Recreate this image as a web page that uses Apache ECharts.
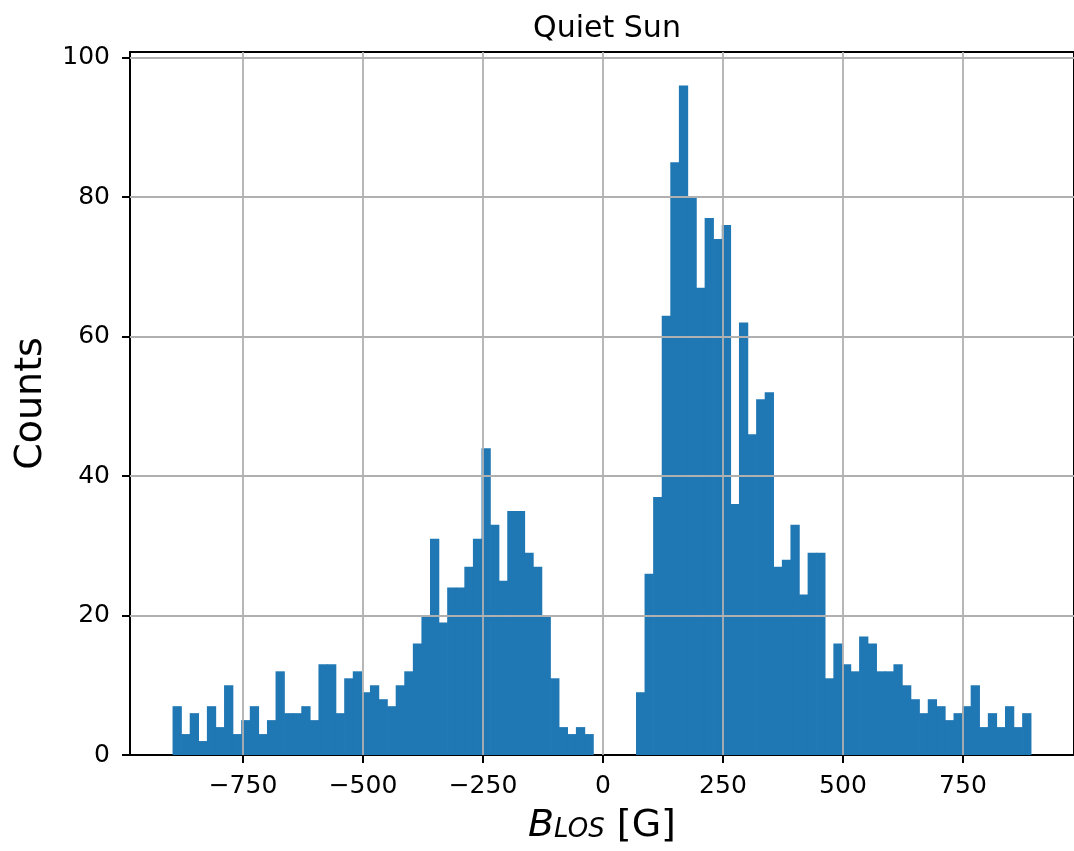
<!DOCTYPE html>
<html>
<head>
<meta charset="utf-8">
<script src="https://cdn.jsdelivr.net/npm/echarts@6/dist/echarts.min.js"></script>
<style>
html,body{margin:0;padding:0;background:#fff;}
#chart{width:1074px;height:851px;}
</style>
</head>
<body>
<div id="chart"></div>
<script>
// Histogram bins: left edge of first bin and bin width (gauss)
const binStart = -896;
const binWidth = 17.88;
// Counts per bin (100 bins)
const counts = [
  7,3,6,2,7,4,10,3,5,7,
  3,5,12,6,6,7,5,13,13,6,
  11,12,9,10,8,7,10,12,16,20,
  31,19,24,24,27,31,44,33,25,35,
  35,29,27,20,11,4,3,4,3,0,
  0,0,0,0,9,26,37,63,85,96,
  80,67,77,74,76,36,62,46,51,52,
  27,28,33,23,29,29,11,16,13,12,
  17,16,12,12,13,10,8,6,8,7,
  5,6,7,10,4,6,4,7,4,6
];
const xTicks = [-750, -500, -250, 0, 250, 500, 750];
const yTicks = [0, 20, 40, 60, 80, 100];
const xRange = [-985.4, 981.4];
const yRange = [0, 100.8];
const titleText = 'Quiet Sun';
const yName = 'Counts';

const FONT = 'DejaVu Sans';
const data = counts.map((c, i) => [binStart + i * binWidth, binStart + (i + 1) * binWidth, c]);
const fmt = v => (v < 0 ? '\u2212' + Math.abs(v) : String(v));

const chart = echarts.init(document.getElementById('chart'), null, {renderer: 'canvas'});
chart.setOption({
  animation: false,
  backgroundColor: '#ffffff',
  title: {
    text: titleText,
    left: 602, top: 9, textAlign: 'center',
    textStyle: {fontFamily: FONT, fontSize: 30, fontWeight: 'normal', color: '#000'}
  },
  grid: {left: 130, right: -1, top: 52, bottom: 96, show: true, borderColor: '#000', borderWidth: 2, backgroundColor: 'transparent'},
  xAxis: {
    type: 'value', min: xRange[0], max: xRange[1],
    name: '{b|B}{s|LOS}{n| [G]}',
    nameLocation: 'middle', nameGap: 52,
    nameTextStyle: {
      rich: {
        b: {fontFamily: FONT, fontStyle: 'italic', fontSize: 38, color: '#000', padding: [0, 0, 9, 0]},
        s: {fontFamily: FONT, fontStyle: 'italic', fontSize: 26, color: '#000'},
        n: {fontFamily: FONT, fontSize: 38, color: '#000', padding: [0, 0, 9, 0]}
      }
    },
    axisLine: {show: true, onZero: false, lineStyle: {color: '#000', width: 2}},
    axisTick: {show: true, length: 8, inside: false, customValues: xTicks, lineStyle: {color: '#000', width: 2}},
    axisLabel: {customValues: xTicks, formatter: fmt, fontFamily: FONT, fontSize: 25, color: '#000', margin: 19},
    splitLine: {show: false}
  },
  yAxis: {
    type: 'value', min: yRange[0], max: yRange[1], interval: 20,
    name: yName, nameLocation: 'middle', nameRotate: 90, nameGap: 80,
    nameTextStyle: {fontFamily: FONT, fontSize: 38, color: '#000'},
    axisLine: {show: true, onZero: false, lineStyle: {color: '#000', width: 2}},
    axisTick: {show: true, length: 8, inside: false, lineStyle: {color: '#000', width: 2}},
    axisLabel: {formatter: fmt, fontFamily: FONT, fontSize: 25, color: '#000', margin: 20},
    splitLine: {show: false}
  },
  series: [
    {
      type: 'custom',
      z: 2,
      data: data,
      encode: {x: [0, 1], y: 2},
      renderItem: function (params, api) {
        if (!(api.value(2) > 0)) return null;
        const p0 = api.coord([api.value(0), api.value(2)]);
        const p1 = api.coord([api.value(1), 0]);
        return {
          type: 'rect',
          shape: {x: p0[0] - 0.35, y: p0[1], width: p1[0] - p0[0] + 0.7, height: p1[1] - p0[1]},
          style: {fill: '#1f77b4'}
        };
      }
    },
    {
      type: 'line',
      z: 5,
      data: [],
      silent: true,
      markLine: {
        silent: true,
        symbol: ['none', 'none'],
        label: {show: false},
        lineStyle: {color: '#b0b0b0', width: 1.8, type: 'solid'},
        emphasis: {disabled: true},
        data: xTicks.map(v => ({xAxis: v})).concat(yTicks.filter(v => v > 0).map(v => ({yAxis: v})))
      }
    }
  ]
});
</script>
</body>
</html>
